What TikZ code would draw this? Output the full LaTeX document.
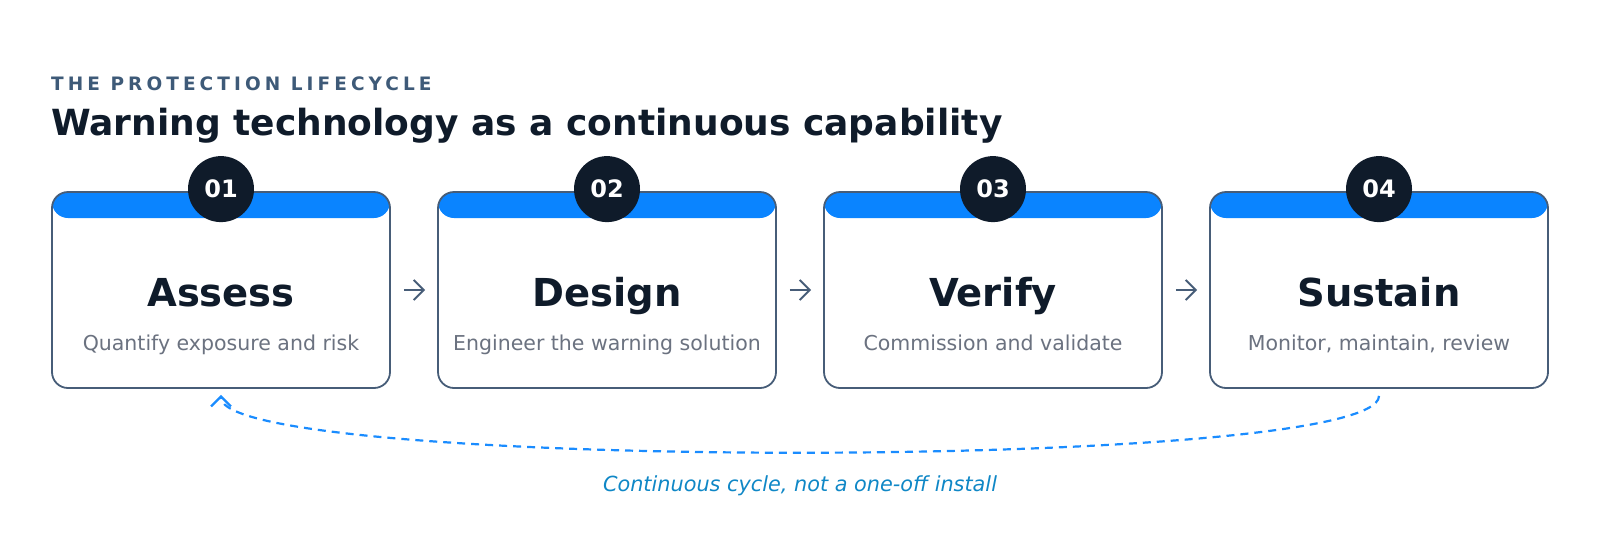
\documentclass[tikz,border=0pt]{standalone}
\usepackage{fontspec}
\setmainfont{DejaVu Sans}
\newfontfamily\spacedfont[LetterSpace=22]{DejaVu Sans}
\usepackage{xcolor}
\usetikzlibrary{arrows.meta, positioning, calc}
\definecolor{inkdark}{HTML}{0F1B2A}
\definecolor{kickerblue}{HTML}{3E5A78}
\definecolor{slateline}{HTML}{475D78}
\definecolor{headblue}{HTML}{0A84FF}
\definecolor{subgray}{HTML}{6B7280}
\definecolor{loopblue}{HTML}{1A8CFF}
\definecolor{notecyan}{HTML}{0F87C6}

\begin{document}
\begin{tikzpicture}[x=1pt, y=-1pt,
    card/.style={rectangle, rounded corners=16pt, draw=slateline, line width=1.8pt, fill=white,
                 minimum width=338pt, minimum height=196pt, inner sep=0pt,
                 path picture={\fill[headblue] (path picture bounding box.north west)
                   rectangle ([yshift=-26pt]path picture bounding box.north east);}},
    badge/.style={circle, fill=inkdark, minimum size=66pt, inner sep=0pt, text=white,
                  font=\bfseries\fontsize{24}{24}\selectfont},
    cardtitle/.style={anchor=base, text=inkdark, font=\bfseries\fontsize{38.5}{38.5}\selectfont},
    cardsub/.style={anchor=base, text=subgray, font=\fontsize{20.5}{20.5}\selectfont},
    flow/.style={-{Straight Barb[length=10pt, width=20pt]}, line width=2pt, draw=slateline},
    returnloop/.style={-{Straight Barb[length=10pt, width=20pt]}, dash pattern=on 8pt off 6pt,
                       line width=2.2pt, draw=loopblue}
]
\useasboundingbox (0,0) rectangle (1600,542);

% heading
\node[anchor=base west, inner sep=0pt, text=kickerblue, font=\spacedfont\bfseries\fontsize{18.5}{18.5}\selectfont]
  (kicker) at (51,90) {THE PROTECTION LIFECYCLE};
\node[anchor=base west, inner sep=0pt, text=inkdark, font=\bfseries\fontsize{36}{36}\selectfont]
  (headline) at (51,135) {Warning technology as a continuous capability};

% stage cards
\node[card] (c1) at (221,290) {};
\node[card] (c2) at (607,290) {};
\node[card] (c3) at (993,290) {};
\node[card] (c4) at (1379,290) {};

\node[badge] (n1) at ([yshift=2pt]c1.north) {01};
\node[badge] (n2) at ([yshift=2pt]c2.north) {02};
\node[badge] (n3) at ([yshift=2pt]c3.north) {03};
\node[badge] (n4) at ([yshift=2pt]c4.north) {04};

\node[cardtitle] (t1) at ([yshift=-16pt]c1.center) {Assess};
\node[cardtitle] (t2) at ([yshift=-16pt]c2.center) {Design};
\node[cardtitle] (t3) at ([yshift=-16pt]c3.center) {Verify};
\node[cardtitle] (t4) at ([yshift=-16pt]c4.center) {Sustain};

\node[cardsub] (s1) at ([yshift=-60pt]c1.center) {Quantify exposure and risk};
\node[cardsub] (s2) at ([yshift=-60pt]c2.center) {Engineer the warning solution};
\node[cardsub] (s3) at ([yshift=-60pt]c3.center) {Commission and validate};
\node[cardsub] (s4) at ([yshift=-60pt]c4.center) {Monitor, maintain, review};

% step arrows
\draw[flow] ([xshift=13pt]c1.east) -- ([xshift=-12pt]c2.west);
\draw[flow] ([xshift=13pt]c2.east) -- ([xshift=-12pt]c3.west);
\draw[flow] ([xshift=13pt]c3.east) -- ([xshift=-12pt]c4.west);

% return loop
\draw[returnloop] ([yshift=-7pt]c4.south) .. controls +(0,76) and +(0,76) .. ([yshift=-6pt]c1.south);
\node[anchor=base, inner sep=0pt, text=notecyan, font=\itshape\fontsize{20.8}{20.8}\selectfont]
  (note) at (800,491) {Continuous cycle, not a one-off install};
\end{tikzpicture}
\end{document}
